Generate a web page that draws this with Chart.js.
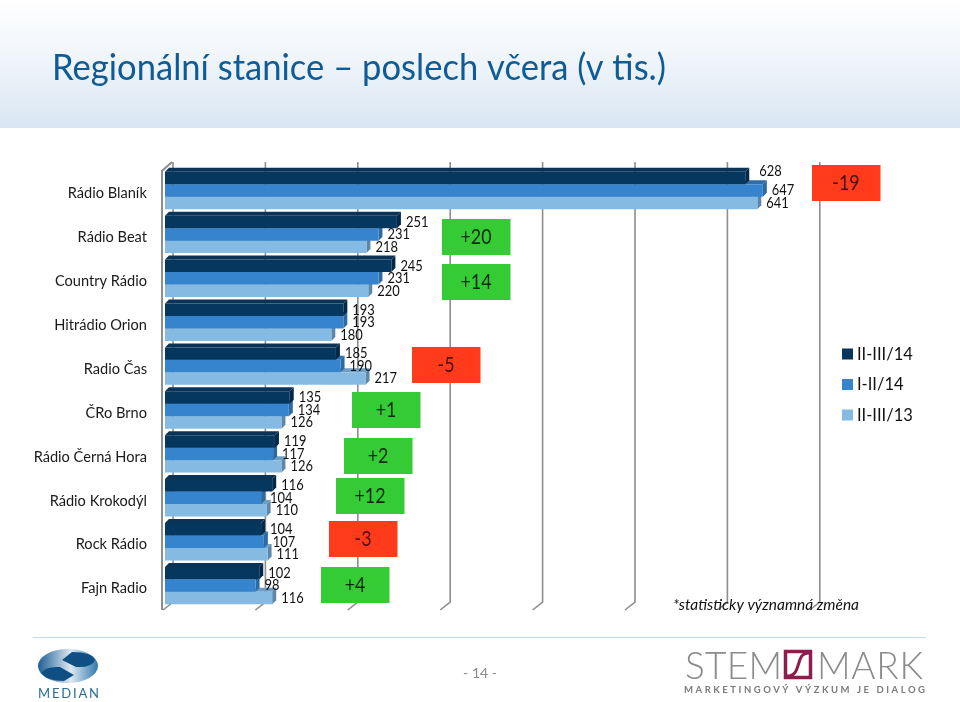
<!DOCTYPE html>
<html lang="cs">
<head>
<meta charset="utf-8">
<title>Regionální stanice</title>
<script src="https://cdn.jsdelivr.net/npm/chart.js@4"></script>
<style>html,body{margin:0;padding:0;background:#fff}canvas{display:block}</style>
</head>
<body>
<canvas id="c" width="960" height="702"></canvas>
<script>
const titleText = 'Regionální stanice – poslech včera (v tis.)';
const categories = ['Rádio Blaník','Rádio Beat','Country Rádio','Hitrádio Orion','Radio Čas','ČRo Brno','Rádio Černá Hora','Rádio Krokodýl','Rock Rádio','Fajn Radio'];
const seriesNames = ['II-III/14','I-II/14','II-III/13'];
const current = [628,251,245,193,185,135,119,116,104,102];
const previous = [647,231,231,193,190,134,117,104,107,98];
const lastYear = [641,218,220,180,217,126,126,110,111,116];
const changes = ['-19','+20','+14',null,'-5','+1','+2','+12','-3','+4'];
const note = '*statisticky významná změna';
const pageNumber = '- 14 -';

const FONT = 'Lato, "Open Sans", sans-serif';
const DEPTH = 4;
const faces = [
  {front:'#06375f', top:'#0a3358', side:'#03294a'},
  {front:'#3684cd', top:'#2f6ea6', side:'#2b6aa3'},
  {front:'#85bbe3', top:'#6f9cc0', side:'#5c87aa'}
];
const changeBoxes = [[812,165],[442,219],[442,264],null,[412,347],[352,392],[344,438],[336,478],[329,521],[321,567]];
const labelNudges = {'0:0':[5,-7],'3:0':[0,-3],'3:1':[1,1],'4:0':[0,-1]};

function fitText(ctx, text, x, y, width){
  ctx.letterSpacing = '0px';
  const w = ctx.measureText(text).width;
  ctx.letterSpacing = ((width - w) / Math.max(1, text.length - 1)).toFixed(3) + 'px';
  ctx.fillText(text, x, y);
  ctx.letterSpacing = '0px';
}
// narrow a humanist sans to the proportions of the reference's typeface
function squeeze(ctx, text, x, y, sx){
  ctx.save();
  ctx.translate(x, y);
  ctx.scale(sx, 1);
  ctx.fillText(text, 0, 0);
  ctx.restore();
}
function squeezeTo(ctx, text, x, y, width){
  squeeze(ctx, text, x, y, width / ctx.measureText(text).width);
}

const backdrop = {
  id:'backdrop',
  beforeDraw(chart){
    const ctx = chart.ctx, xs = chart.scales.x;
    ctx.save();
    ctx.fillStyle = '#fff'; ctx.fillRect(0,0,960,702);
    const g = ctx.createLinearGradient(0,0,0,128);
    g.addColorStop(0,'#ffffff'); g.addColorStop(0.45,'#f0f5fa'); g.addColorStop(1,'#d9e6f3');
    ctx.fillStyle = g; ctx.fillRect(0,0,960,128);
    ctx.fillStyle = '#0f5b96';
    ctx.font = '36px '+FONT; ctx.textBaseline='alphabetic'; ctx.textAlign='left';
    squeezeTo(ctx, titleText, 52, 80, 614);

    // walls: left wall and grid lines sit behind the bars, 8px back from the front plane
    ctx.strokeStyle = '#8e8e8e'; ctx.lineWidth = 2;
    const back = 8, topY = 162, floorY = 602, frontY = 610;
    ctx.beginPath();
    ctx.moveTo(162,frontY); ctx.lineTo(162,171); ctx.lineTo(172,topY);
    ctx.stroke();
    ctx.lineWidth = 1.6;
    xs.ticks.forEach(t=>{
      const px = xs.getPixelForValue(t.value)+back;
      ctx.beginPath();
      ctx.moveTo(px,topY); ctx.lineTo(px,floorY); ctx.lineTo(px-10,frontY);
      ctx.stroke();
    });

    // footer
    ctx.strokeStyle='#c5d9ea'; ctx.lineWidth=1.2;
    ctx.beginPath(); ctx.moveTo(33,637.5); ctx.lineTo(926,637.5); ctx.stroke();
    ctx.restore();
  },
  beforeDatasetDraw(chart,args){
    const ctx = chart.ctx, f = faces[args.index], d = DEPTH;
    ctx.save();
    chart.getDatasetMeta(args.index).data.forEach(b=>{
      const h = b.height, y0 = b.y-h/2, x0 = b.base, x1 = b.x;
      ctx.fillStyle = f.top;
      ctx.beginPath();
      ctx.moveTo(x0,y0); ctx.lineTo(x0+d,y0-d); ctx.lineTo(x1+d,y0-d); ctx.lineTo(x1,y0); ctx.closePath(); ctx.fill();
      ctx.fillStyle = f.side;
      ctx.beginPath();
      ctx.moveTo(x1,y0); ctx.lineTo(x1+d,y0-d); ctx.lineTo(x1+d,y0+h-d); ctx.lineTo(x1,y0+h); ctx.closePath(); ctx.fill();
    });
    ctx.restore();
  },
  afterDatasetsDraw(chart){
    const ctx = chart.ctx;
    ctx.save();
    // value labels
    ctx.fillStyle='#111'; ctx.font='15px '+FONT; ctx.textAlign='left'; ctx.textBaseline='middle';
    chart.data.datasets.forEach((ds,di)=>{
      chart.getDatasetMeta(di).data.forEach((b,i)=>{
        const n = labelNudges[di+':'+i] || [0,0];
        squeeze(ctx, String(ds.data[i]), b.x+DEPTH+5+n[0], b.y+n[1], 0.86);
      });
    });
    // change boxes
    changes.forEach((c,i)=>{
      if(!c) return;
      const [x,y] = changeBoxes[i], neg = c[0]==='-';
      ctx.fillStyle = neg ? '#ff3b1c' : '#34cb34';
      ctx.fillRect(x,y,68.5,36);
      ctx.fillStyle = neg ? '#4a0d05' : '#0b2a0b';
      ctx.font='21px '+FONT; ctx.textAlign='center'; ctx.textBaseline='middle';
      squeeze(ctx, c, x+34, y+18.5, 0.85);
    });
    // legend
    ctx.textAlign='left'; ctx.font='16.5px '+FONT;
    seriesNames.forEach((n,i)=>{
      const y = 354+i*30.5;
      ctx.fillStyle = faces[i].front; ctx.fillRect(842,y-5.5,11,11);
      ctx.fillStyle = '#111'; ctx.fillText(n,857,y+0.5);
    });
    // note
    ctx.font='italic 15.5px '+FONT; ctx.fillStyle='#111';
    squeezeTo(ctx,note,673,605,186);
    // page number
    ctx.font='14px '+FONT; ctx.fillStyle='#8a8a8a'; ctx.textAlign='center';
    ctx.fillText(pageNumber,480,673);
    ctx.textAlign='left';

    // MEDIAN mark
    const g1 = ctx.createLinearGradient(38,0,98,0);
    g1.addColorStop(0,'#1d5f96'); g1.addColorStop(0.55,'#dfe9f2'); g1.addColorStop(1,'#2f78ad');
    ctx.fillStyle = g1;
    ctx.beginPath(); ctx.ellipse(68,666,30,17,0,0,Math.PI*2); ctx.fill();
    ctx.fillStyle='#0f4f83';
    ctx.beginPath(); ctx.moveTo(62,660); ctx.lineTo(72,652); ctx.quadraticCurveTo(92,652,95,660); ctx.quadraticCurveTo(92,668,76,667); ctx.closePath(); ctx.fill();
    ctx.beginPath(); ctx.moveTo(41,673); ctx.quadraticCurveTo(46,666,60,667); ctx.lineTo(74,675); ctx.lineTo(64,681); ctx.quadraticCurveTo(47,681,41,673); ctx.closePath(); ctx.fill();
    ctx.fillStyle='#2c6c96'; ctx.font='13px '+FONT; ctx.textBaseline='alphabetic';
    fitText(ctx,'MEDIAN',38,698,61);

    // STEM/MARK mark
    ctx.fillStyle='#8b8b8b'; ctx.font='300 37px '+FONT;
    fitText(ctx,'STEM',685,679,97);
    fitText(ctx,'MARK',817,679,106);
    ctx.strokeStyle='#8c1d4c'; ctx.lineWidth=3.5;
    ctx.strokeRect(785.5,651.5,25,26);
    ctx.lineWidth=3;
    ctx.beginPath(); ctx.moveTo(787,676); ctx.bezierCurveTo(803,676,794,653,809,653); ctx.stroke();
    ctx.fillStyle='#7b7b7b'; ctx.font='bold 9.5px '+FONT;
    fitText(ctx,'MARKETINGOVÝ VÝZKUM JE DIALOG',684,693,241);
    ctx.restore();
  }
};

new Chart(document.getElementById('c'),{
  type:'bar',
  data:{
    labels:categories,
    datasets:[
      {label:seriesNames[0],data:current,backgroundColor:faces[0].front},
      {label:seriesNames[1],data:previous,backgroundColor:faces[1].front},
      {label:seriesNames[2],data:lastYear,backgroundColor:faces[2].front}
    ]
  },
  options:{
    indexAxis:'y',
    responsive:false,
    animation:false,
    layout:{padding:{left:0,right:148.2,top:168.55,bottom:94.45}},
    datasets:{bar:{categoryPercentage:0.853,barPercentage:1,borderWidth:0}},
    plugins:{legend:{display:false},tooltip:{enabled:false},title:{display:false}},
    scales:{
      x:{min:0,max:700,display:true,
         ticks:{stepSize:100,display:false},
         grid:{display:false,drawTicks:false},border:{display:false},
         afterFit(s){s.height=0;}},
      y:{grid:{display:false,drawTicks:false},border:{display:false},
         ticks:{color:'#1a1a1a',font:{family:FONT,size:14.6},padding:18,labelOffset:3,autoSkip:false},
         afterFit(s){s.width=165;}}
    }
  },
  plugins:[backdrop]
});
</script>
</body>
</html>
